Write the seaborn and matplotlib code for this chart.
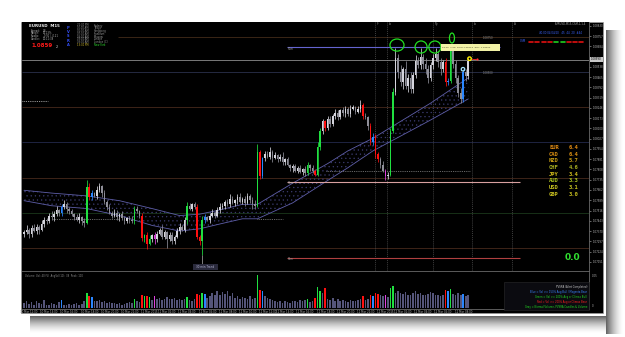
import numpy as np
import matplotlib
matplotlib.use("Agg")
import matplotlib.pyplot as plt
import seaborn as sns
from matplotlib.patches import Rectangle, Ellipse

# ------------------------------------------------------------------ data
P0 = 1.07000            # closes / wicks are in pips above P0
first_open = 35
closes = [36, 38, 35, 39, 37, 40, 38, 42, 45, 44, 48, 47,
          49, 52, 50, 54, 56, 53, 51, 49, 47, 45, 47, 44,
          43, 68, 61, 64, 62, 66, 69, 64, 58, 54, 50, 48, 50, 47, 49, 46, 44, 46, 45, 44,
          53, 51, 48, 32, 34, 28, 31, 34, 31, 35, 38, 33, 36, 31, 34, 30, 33, 37, 40, 38,
          45, 55, 53, 56, 54, 33, 30, 45, 47, 45, 48, 50, 48, 52, 54,
          55, 58, 56, 60, 57, 59, 61, 58, 60, 57, 62, 59, 56, 55,
          93, 76, 89, 92, 90, 93, 89, 91, 88, 90, 86, 88, 84, 82, 83, 80, 82, 79, 81, 78,
          84, 82, 80, 77, 97, 108, 115, 110, 117, 113, 119, 121, 118, 123, 121, 124, 120, 124, 125, 122, 124, 127,
          119, 118, 112, 100, 104, 92, 88, 84, 80, 76, 77, 108, 136,
          160, 150, 143, 152, 140, 146, 138, 148, 158, 155, 161, 156, 152, 146, 155, 160, 163, 157, 152, 157,
          143, 144, 165, 156, 146, 135, 131, 150, 147, 158]
wick_hi = [2,3,1,2,3,2,1,3,2,1,2,3,2,3,1,2,3,2,1,2,
           1,2,3,1,2,5,3,2,1,3,2,1,2,1,2,1,3,2,1,2,
           2,1,2,3,2,2,1,2,1,2,3,1,2,2,1,3,2,1,2,2,
           1,2,3,1,2,3,2,1,2,2,1,3,2,1,2,3,1,2,3,2,
           1,2,3,2,1,2,3,1,2,2,1,2,3,6,2,1,2,2,4,2,
           2,1,2,3,1,2,1,2,2,1,2,1,2,2,1,2,1,3,2,2,
           1,2,2,1,3,2,1,2,2,1,3,2,1,2,3,1,2,1,2,3,
           2,1,2,3,1,2,2,3,7,3,5,2,6,3,4,2,4,3,6,2,
           4,3,2,3,4,2,3,2,3,2,2,4,3,2,4,2,2,2]
wick_lo = [2,1,3,2,1,2,3,1,2,2,1,2,3,1,2,2,1,3,2,1,
           2,1,2,3,3,1,2,2,1,2,1,3,2,2,1,2,1,2,3,1,
           2,1,2,1,2,1,2,2,3,4,1,2,3,2,1,2,2,6,1,2,
           2,1,2,1,2,3,1,2,1,2,3,10,2,1,2,1,2,1,2,1,
           2,1,2,1,2,3,1,2,2,1,2,3,2,1,2,1,2,1,2,3,
           1,2,1,2,2,1,2,3,1,2,1,2,2,1,2,2,1,1,2,2,
           2,1,2,1,2,2,1,2,3,1,2,1,2,1,2,2,1,3,2,2,
           3,2,2,1,3,2,1,1,2,4,3,5,2,4,3,3,2,2,3,4,
           3,4,2,3,2,3,4,2,3,2,2,3,4,3,3,2,3,2]
volumes = [15, 22, 12, 18, 10, 20, 14, 12, 25, 10, 8, 14, 12, 10, 18, 24,
           10, 8, 12, 9, 11, 14, 10, 12,
           20, 45, 35, 33,
           22, 20, 25, 18, 20, 15, 18, 14, 16, 12, 14, 10, 12, 15, 18, 16,
           28, 20, 18, 38, 36, 35, 34, 25, 36,
           28, 30, 25, 27, 32, 28, 26, 30, 24, 27, 25, 28,
           32, 24, 20, 26, 42, 40, 45, 42,
           30, 35, 45, 40, 50, 38, 48, 42, 52, 36, 44, 30, 35, 28, 32, 30, 26, 35, 28, 30,
           100, 55, 52,
           35, 30, 28, 24, 20, 18, 22, 16, 20, 18, 15, 20, 22, 18, 25, 20, 24, 26, 18, 20, 30,
           62, 50, 45, 60,
           28, 25, 30, 22, 26, 20, 24, 22, 18, 25, 20, 22, 24, 26, 35, 24, 28,
           40, 36, 44, 42, 38, 35, 40, 32, 60, 65, 45,
           50, 45, 42, 48, 40, 38, 44, 50, 42, 45, 40, 38, 42, 48, 44, 40, 38, 36, 40,
           55, 52, 58, 42, 40, 45, 38, 42, 36, 40]
# PVSRA candle class: g climax bull, r climax bear, b above-avg bull, m above-avg bear
pvsra = {15: 'b', 25: 'g', 26: 'r', 27: 'b', 44: 'g', 47: 'r', 48: 'g', 49: 'r', 50: 'g',
         52: 'm', 65: 'g', 69: 'r', 70: 'r', 71: 'g', 72: 'b', 93: 'g', 94: 'r', 95: 'b',
         113: 'g', 116: 'r', 117: 'g', 118: 'g', 120: 'r', 135: 'r', 138: 'r', 139: 'b',
         140: 'r', 141: 'r', 144: 'm', 146: 'g', 147: 'g', 168: 'r', 169: 'b', 170: 'g', 175: 'b'}

ribbon_idx = [0, 11, 25, 38, 51, 62, 70, 78, 87, 93, 107, 121, 129, 139, 162, 177]
ribbon_top = [66, 64, 62, 58.6, 53, 48, 49, 52, 56, 56, 71, 85, 94, 103, 128, 146]
ribbon_bot = [58.6, 55, 53, 48, 41, 37, 38.6, 42, 45.7, 45.7, 57, 73, 82, 94, 116, 131]

level_pips = [175, 150, 125, 100, 75, 50, 25]
level_cols = ['#3a2616', '#252a42', '#3d2418', '#1e2442', '#3d2418', '#173017', '#3d2418']
pivot_R1, pivot_S1, pivot_S2 = 167.9, 72.1, 17.9
bid_price = 1.08590
session_x = [139.8, 144.6, 163.0, 178.5, 194.4]
session_labels = ["Fr", "Lo", "Ny", "Lo", "Ar"]

currencies = ["EUR", "CAD", "NZD", "CHF", "JPY", "AUD", "USD", "GBP"]
strength = [6.4, 6.4, 5.7, 4.6, 3.4, 3.3, 3.1, 3.0]
cur_cols = ['#e08a12', '#d88e12', '#c49a14', '#a8ae20', '#d0bc1c', '#a8c020', '#c8c420', '#c8c020']

xtick_idx = [2, 10, 18, 26, 34, 42, 50, 57, 65, 73, 81, 89, 97, 104, 112, 120, 128, 136, 144, 151, 159, 167, 175]
xtick_labels = ["10 Mar 12:00", "10 Mar 14:00", "10 Mar 16:00", "10 Mar 18:00", "10 Mar 20:00",
                "10 Mar 22:00", "11 Mar 2015", "11 Mar 02:00", "11 Mar 04:00", "11 Mar 06:00",
                "11 Mar 08:00", "11 Mar 10:00", "11 Mar 12:00", "11 Mar 14:00", "11 Mar 16:00",
                "11 Mar 18:00", "11 Mar 20:00", "11 Mar 22:00", "12 Mar 2015", "12 Mar 02:00",
                "12 Mar 04:00", "12 Mar 06:00", "12 Mar 08:00"]

# ------------------------------------------------------------------ style
sns.set_theme(style="dark")
plt.rcParams['font.family'] = ['DejaVu Sans']
plt.rcParams['hatch.linewidth'] = 0.4

W, H = 625, 337
fig = plt.figure(figsize=(W / 100, H / 100), dpi=100)
fig.patch.set_facecolor('white')


def frect(x0, y0, x1, y1):
    return [x0 / W, 1 - y1 / H, (x1 - x0) / W, (y1 - y0) / H]


def T(x, y, s, c='#a0a0a0', fs=2.2, **kw):
    kw.setdefault('va', 'center')
    fig.text(x / W, 1 - y / H, s, color=c, fontsize=fs, **kw)


def pr(p):
    return P0 + np.asarray(p, dtype=float) / 1e4


# drop shadow and black panel
for k in range(17):
    a = 0.6 * (1 - k / 17) ** 1.6
    fig.add_artist(Rectangle(((606 + k) / W, 1 - 334 / H), 1 / W, (334 - 30) / H,
                             transform=fig.transFigure, color='black', alpha=a, lw=0, zorder=-3))
    fig.add_artist(Rectangle((30 / W, 1 - (317 + k) / H), (606 - 30) / W, 1 / H,
                             transform=fig.transFigure, color='black', alpha=a, lw=0, zorder=-3))
fig.add_artist(Rectangle((21 / W, 1 - 313 / H), 582 / W, 291 / H, transform=fig.transFigure,
                         facecolor='black', edgecolor='#9a9a9a', lw=0.5, zorder=-1))

ax = fig.add_axes(frect(22, 22, 589, 271))
axv = fig.add_axes(frect(22, 272, 589, 309), sharex=ax)
for a in (ax, axv):
    a.set_facecolor('black')
    a.grid(False)
    for s in ('left', 'top'):
        a.spines[s].set_visible(False)
    for s in ('right', 'bottom'):
        a.spines[s].set_color('#6a6a6a')
        a.spines[s].set_linewidth(0.6)

# ------------------------------------------------------------------ candles
idx = np.arange(len(closes))
c = pr(closes)
o = np.r_[pr(first_open), c[:-1]]
hi = np.maximum(o, c) + np.array(wick_hi) / 1e4
lo = np.minimum(o, c) - np.array(wick_lo) / 1e4
pal = {'g': '#20e040', 'r': '#ff1010', 'b': '#2a86ff', 'm': '#e040e0'}
cols, vcols = [], []
for i in idx:
    k = pvsra.get(int(i))
    if k:
        cols.append(pal[k]); vcols.append(pal[k])
    else:
        cols.append('#d4d4dc' if c[i] >= o[i] else '#8e8e98')
        vcols.append('#55557a')

# horizontal levels
for lp, lc in zip(level_pips, level_cols):
    x0 = 37.5 if lp == 175 else -0.8
    ax.hlines(pr(lp), x0, 226, color=lc, lw=0.7, zorder=1)

# ribbon
ax.fill_between(ribbon_idx, pr(ribbon_bot), pr(ribbon_top), facecolor='none',
                edgecolor='#3a3a6e', hatch='....', lw=0, zorder=2)
sns.lineplot(x=ribbon_idx, y=pr(ribbon_top), ax=ax, color='#5e5ea8', lw=0.6, zorder=2)
sns.lineplot(x=ribbon_idx, y=pr(ribbon_bot), ax=ax, color='#5e5ea8', lw=0.6, zorder=2)

# dotted reference lines
dot = (0, (1, 1.2))
ax.hlines(pr(129.3), -0.8, 9.5, color='#c8c8c8', lw=0.6, linestyles=[dot], zorder=2)
ax.hlines(pr(45.7), 11.5, 38, color='#8a8a8a', lw=0.6, linestyles=[dot], zorder=2)
ax.hlines(pr(45.7), 93, 103, color='#8a8a8a', lw=0.6, linestyles=[dot], zorder=2)
ax.hlines(pr(80), 120.5, 177.7, color='#8a8a8a', lw=0.6, linestyles=[dot], zorder=2)

# pivots and bid line
ax.hlines(pr(pivot_R1), 104.8, 189.6, color='#6464d0', lw=0.8, zorder=2)
ax.hlines(pr(pivot_S1), 104.8, 197.6, color='#d8a0a0', lw=0.8, zorder=2)
ax.hlines(pr(pivot_S2), 104.8, 197.6, color='#b04040', lw=0.8, zorder=2)
ax.axhline(bid_price, color='#8c8c8c', lw=0.6, zorder=2)

# session separators
for sx in session_x:
    ax.axvline(sx, color='#555555', lw=0.5, ls=(0, (1.5, 1.5)), zorder=1)

ax.vlines(idx, lo, hi, colors=cols, lw=0.55, zorder=3)
ax.bar(idx, np.maximum(np.abs(c - o), 0.5e-4), bottom=np.minimum(o, c), width=0.62,
       color=cols, lw=0, zorder=4)
ax.vlines(71, pr(13), pr(20), colors='#b0b0b0', lw=0.5, zorder=3)

# markers
for (ex, ey, ew, eh) in [(148.6, 169.3, 5.6, 8.6), (158.2, 167.9, 4.8, 8.6),
                         (163.7, 167.9, 4.8, 8.6), (170.5, 174.3, 2.0, 7.1)]:
    ax.add_patch(Ellipse((ex, pr(ey)), ew, eh / 1e4, fill=False, ec='#22e022', lw=0.9, zorder=6))
ax.add_patch(Ellipse((177.5, pr(159.6)), 1.4, 2.5e-4, fill=False, ec='#ffee00', lw=1.0, zorder=6))
ax.add_patch(Ellipse((174.9, pr(152.1)), 1.4, 2.5e-4, fill=False, ec='#a8e8ff', lw=0.9, zorder=6))
ax.plot([178.6, 180.2], [pr(159.6)] * 2, color='#ff3030', lw=0.6, zorder=6)
ax.scatter([180.4], [pr(159.6)], s=2.5, color='#ff3030', zorder=6, lw=0)

ax.set_xlim(-0.8, 225.1)
ax.set_ylim(1.070857, 1.088571)
ytk = [1.08830 - 0.00073 * k for k in range(25)]
ytk = [v for v in ytk if v > 1.07090 and abs(v - bid_price) > 0.00045]
ax.yaxis.tick_right()
ax.set_yticks(ytk)
ax.set_yticklabels([f"{v:.5f}" for v in ytk])
ax.tick_params(axis='y', labelsize=1.9, colors='#b4b4b4', length=1.5, width=0.4, pad=1)
ax.tick_params(axis='x', bottom=False, labelbottom=False)

# ------------------------------------------------------------------ volume
axv.bar(idx, volumes, width=0.62, color=vcols, lw=0)
axv.set_ylim(-3, 108)
axv.set_yticks([])
axv.set_xticks(xtick_idx)
axv.set_xticklabels(xtick_labels)
axv.tick_params(axis='x', labelsize=1.9, colors='#b4b4b4', length=0, pad=0.6)

# ------------------------------------------------------------------ texts
# info block
T(29, 26.3, "EURUSD  M15", '#f0f0f0', 2.9, weight='bold')
info = [("Spread:", "0.6"), ("Range:", "96.13%"), ("Swaps:", "-0.91 / -0.21"), ("Candle:", "00:11:38")]
for k, (a, b) in enumerate(info):
    T(31, 30.7 + 2.7 * k, a, '#b0b0b0', 1.8)
    T(43, 30.7 + 2.7 * k, b, '#b0b0b0', 1.8)
T(31.5, 45.5, "1.0859", '#ff1a1a', 4.0, weight='bold')
T(55.5, 46.8, "2", '#e0e0e0', 2.4)
for k, ch in enumerate("PVSRA"):
    T(68, 28 + 4.2 * k, ch, '#3450ff', 2.6, ha='center', weight='bold')
times = ["22:00 PM", "00:00 AM", "01:00 AM", "07:00 AM", "08:00 AM", "08:00 AM", "08:00 AM", "13:00 PM"]
cities = ["Sydney", "Tokyo", "Hongkong", "Frankfurt", "Moscow", "London", "London (C)", "New York"]
for k, (tm, ct) in enumerate(zip(times, cities)):
    last = k == len(times) - 1
    T(77, 25.5 + 2.75 * k, tm, '#d8c030' if last else '#9a9a9a', 1.8)
    T(94, 25.5 + 2.75 * k, ct, '#30e030' if last else '#9a9a9a', 1.8)

# top right
T(586, 24, "EURUSD,M15,CSM,1,1,4", '#a0a0a0', 1.9, ha='right')
T(582, 33, "40:00 04/04/20   45  44  20  #44", '#3c64ff', 1.9, ha='right')
T(520, 41.5, "CSM", '#3c64ff', 2.1)
for k, dc in enumerate(['#e01010'] * 4 + ['#20d020'] * 2 + ['#e01010'] * 3):
    x0 = 529 + 6.3 * k
    fig.add_artist(plt.Line2D([x0 / W, (x0 + 4) / W], [1 - 41.5 / H] * 2, color=dc, lw=1.2,
                              transform=fig.transFigure))

# session labels
for sx, sl in zip(session_x, session_labels):
    T(24 + 2.51 * sx + 2, 24, sl, '#8a8a8a', 2.0)

# level labels
T(483, 38, "1.08750", '#8c8c8c', 1.9)
T(483, 73.5, "1.08500", '#8c8c8c', 1.9)
T(288, 49.5, "R1m", '#a0a0a0', 1.9)
T(288, 183.5, "S1m", '#a0a0a0', 1.9)
T(288, 259.5, "S2m", '#a0a0a0', 1.9)

# yellow label
fig.add_artist(Rectangle((441 / W, 1 - 50.5 / H), 59 / W, 6.5 / H, transform=fig.transFigure,
                         facecolor='#f2f2a6', lw=0, zorder=5))
T(442.5, 47.3, "18:15  1.08  pmH 1.08710  pmL 1.08452", '#404020', 1.7, zorder=6)

# bid label
fig.add_artist(Rectangle((590 / W, 1 - 62 / H), 13 / W, 5 / H, transform=fig.transFigure,
                         facecolor='#c8c8c8', lw=0, zorder=5))
T(591, 59.5, "1.08590", '#000000', 1.9, zorder=6)

# currency strength
for k, (cu, sv, cc) in enumerate(zip(currencies, strength, cur_cols)):
    T(549, 147.3 + 6.7 * k, cu, cc, 4.0, family='DejaVu Sans Mono', weight='bold')
    T(569, 147.3 + 6.7 * k, f"{sv:.1f}", cc, 4.0, family='DejaVu Sans Mono', weight='bold')

T(565, 257, "0.0", '#30e030', 6.5, weight='bold')

# 30 min trend box
fig.add_artist(Rectangle((193 / W, 1 - 270 / H), 25 / W, 6.5 / H, transform=fig.transFigure,
                         facecolor='#2a2a3c', lw=0, zorder=5))
T(205.5, 266.8, "30 min Trend", '#b8b8d8', 2.0, ha='center', zorder=6)

# volume header and legend
T(25, 275.5, "Volume  Vol: 40 (V)  AvgVol(10): 38  Peak: 100", '#8c8c8c', 1.8)
T(592, 276, "0.05", '#b0b0b0', 1.9)
T(592, 306, "0", '#b0b0b0', 1.9)
fig.add_artist(Rectangle((504 / W, 1 - 310 / H), 85 / W, 28 / H, transform=fig.transFigure,
                         facecolor='#0b0b10', edgecolor='#2c2c2c', lw=0.4, zorder=5))
legend_lines = [("PVSRA (Alert Completed)", '#d0d0d0'),
                ("Blue = Vol >= 150% Avg Bull / Magenta Bear", '#3a86ff'),
                ("Green = Vol >= 200% Avg or Climax Bull", '#22e022'),
                ("Red = Vol >= 200% Avg or Climax Bear", '#ff2020'),
                ("Gray = Normal Volume, PVSRA Candles & Volume", '#22e022')]
for k, (s, col) in enumerate(legend_lines):
    T(587, 287 + 5 * k, s, col, 1.8, ha='right', zorder=6)

fig.savefig("out.png", dpi=100, facecolor='white')
